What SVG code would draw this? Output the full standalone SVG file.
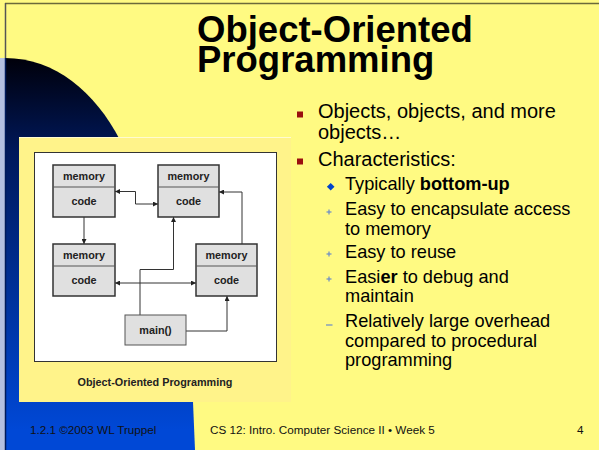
<svg xmlns="http://www.w3.org/2000/svg" width="599" height="450" viewBox="0 0 599 450">
<defs>
<linearGradient id="blueGrad" gradientUnits="userSpaceOnUse" x1="0" y1="58" x2="0" y2="430">
<stop offset="0" stop-color="#00000a"/>
<stop offset="0.25" stop-color="#00185a"/>
<stop offset="1" stop-color="#0048d6"/>
</linearGradient>
<marker id="arr" viewBox="0 0 10 10" refX="10" refY="5" markerWidth="5" markerHeight="5" markerUnits="userSpaceOnUse" orient="auto-start-reverse">
<path d="M0,0 L10,5 L0,10 Z" fill="#222"/>
</marker>
<style>
.node rect { fill: #e0e0e0; stroke: #333; stroke-width: 1.5; }
.node line { stroke: #555; stroke-width: 1; }
.nt { font-family: "Liberation Sans", Arial, sans-serif; font-weight: bold; font-size: 10.8px; fill: #222; text-anchor: middle; }
.conn path { fill: none; stroke: #333; stroke-width: 1; }
.body { font-family: "Liberation Sans", Arial, sans-serif; fill: #000; }
.main { font-size: 20px; }
.sub { font-size: 18.2px; }
.foot { font-family: "Liberation Sans", Arial, sans-serif; font-size: 11.7px; fill: #111; }
.plus { stroke: #6a8ac8; stroke-width: 1.2; }
</style>
</defs>
<!-- background -->
<rect x="0" y="0" width="599" height="450" fill="#fffa82"/>
<rect x="0" y="58" width="5" height="392" fill="#b4c0e0"/>
<line x1="5" y1="3.5" x2="599" y2="3.5" stroke="#6b6a3a" stroke-width="1.5"/>
<line x1="5.5" y1="3" x2="5.5" y2="58" stroke="#555" stroke-width="1.5"/>
<!-- blue shape -->
<path d="M5,58 C55,58 95,92 120,140 L193,402 L195,450 L5,450 Z" fill="url(#blueGrad)"/>
<line x1="5.5" y1="58" x2="5.5" y2="450" stroke="#001a5a" stroke-width="1.5"/>
<!-- title -->
<text class="body" font-weight="bold" font-size="36.5px" x="197" y="42">Object-Oriented</text>
<text class="body" font-weight="bold" font-size="36.5px" x="197" y="72">Programming</text>
<!-- image panel -->
<rect x="19" y="137" width="272" height="265" fill="#fff38a"/>
<line x1="19" y1="137.5" x2="291" y2="137.5" stroke="#fffbd0" stroke-width="1"/>
<rect x="34.5" y="152.5" width="242" height="209" fill="#fff" stroke="#333" stroke-width="1"/>
<text class="nt" x="155" y="386">Object-Oriented Programming</text>
<!-- connectors -->
<g class="conn">
<path d="M115,191.5 H135.5 V204 H158" marker-start="url(#arr)" marker-end="url(#arr)"/>
<path d="M84,217 V244" marker-end="url(#arr)"/>
<path d="M115,283 H196" marker-start="url(#arr)" marker-end="url(#arr)"/>
<path d="M140,315 V269.5 H173.5 V217" marker-end="url(#arr)"/>
<path d="M186,331 H227 V296" marker-end="url(#arr)"/>
<path d="M242,244 V192 H219" marker-end="url(#arr)"/>
</g>
<!-- nodes -->
<g id="objA" class="node">
<rect x="53" y="165" width="62" height="52"/>
<line x1="53" y1="187" x2="115" y2="187"/>
<text class="nt" x="84" y="180">memory</text>
<text class="nt" x="84" y="205">code</text>
</g>
<g id="objB" class="node">
<rect x="158" y="165" width="61" height="52"/>
<line x1="158" y1="187" x2="219" y2="187"/>
<text class="nt" x="188.5" y="180">memory</text>
<text class="nt" x="188.5" y="205">code</text>
</g>
<g id="objC" class="node">
<rect x="53" y="244" width="62" height="52"/>
<line x1="53" y1="266" x2="115" y2="266"/>
<text class="nt" x="84" y="259">memory</text>
<text class="nt" x="84" y="284">code</text>
</g>
<g id="objD" class="node">
<rect x="196" y="244" width="61" height="52"/>
<line x1="196" y1="266" x2="257" y2="266"/>
<text class="nt" x="226.5" y="259">memory</text>
<text class="nt" x="226.5" y="284">code</text>
</g>
<g id="main" class="node">
<rect x="125" y="315" width="61" height="30" style="stroke:#555;stroke-width:1"/>
<text class="nt" x="155.5" y="334">main()</text>
</g>
<!-- bullets -->
<rect x="297" y="111.5" width="6" height="6" fill="#9a0f0f"/>
<rect x="297" y="158.5" width="6" height="6" fill="#9a0f0f"/>
<text class="body main" x="318" y="118">Objects, objects, and more</text>
<text class="body main" x="318" y="139">objects…</text>
<text class="body main" x="318" y="166">Characteristics:</text>
<path d="M330.7,183 L334.5,186.8 L330.7,190.6 L326.9,186.8 Z" fill="#0044cc"/>
<text class="body sub" x="345" y="190">Typically <tspan font-weight="bold">bottom-up</tspan></text>
<g class="plus">
<line x1="326.5" y1="212" x2="331.5" y2="212"/><line x1="329" y1="209.5" x2="329" y2="214.5"/>
<line x1="326.5" y1="254" x2="331.5" y2="254"/><line x1="329" y1="251.5" x2="329" y2="256.5"/>
<line x1="326.5" y1="279" x2="331.5" y2="279"/><line x1="329" y1="276.5" x2="329" y2="281.5"/>
<line x1="326" y1="325" x2="332.5" y2="325"/>
</g>
<text class="body sub" x="345" y="215">Easy to encapsulate access</text>
<text class="body sub" x="345" y="235">to memory</text>
<text class="body sub" x="345" y="258">Easy to reuse</text>
<text class="body sub" x="345" y="283">Easi<tspan font-weight="bold">er</tspan> to debug and</text>
<text class="body sub" x="345" y="302">maintain</text>
<text class="body sub" x="345" y="327">Relatively large overhead</text>
<text class="body sub" x="345" y="346.5">compared to procedural</text>
<text class="body sub" x="345" y="365.5">programming</text>
<!-- footer -->
<text class="foot" x="30" y="434">1.2.1 ©2003 WL Truppel</text>
<text class="foot" x="210" y="434">CS 12: Intro. Computer Science II • Week 5</text>
<text class="foot" x="577" y="434">4</text>
</svg>
